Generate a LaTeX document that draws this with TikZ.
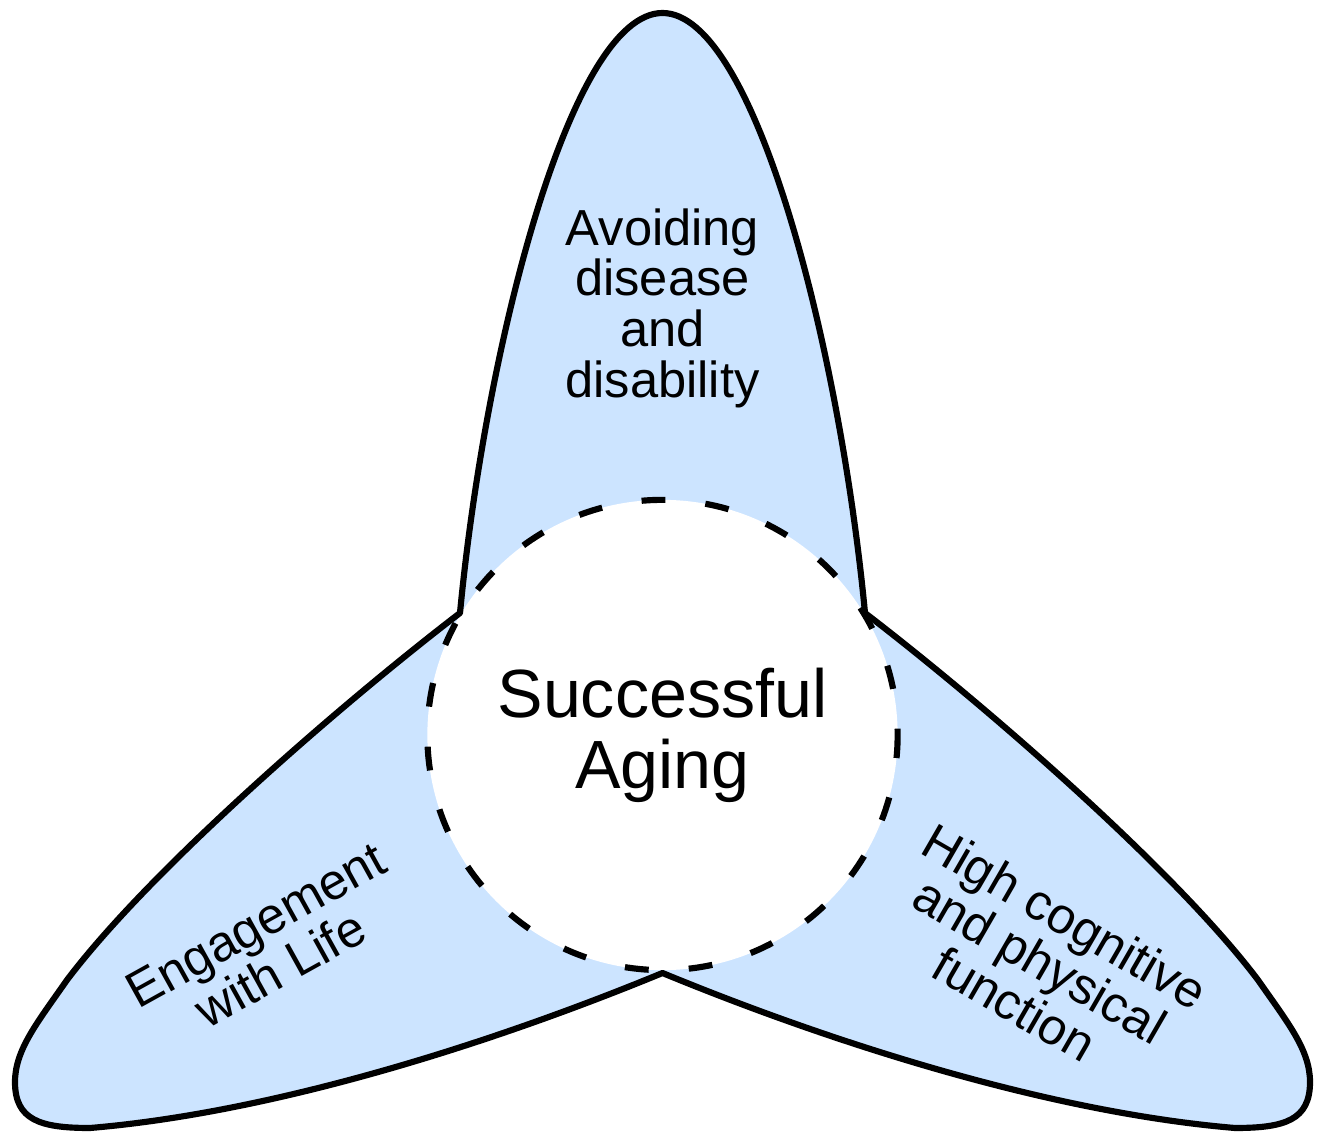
\documentclass[tikz,border=0pt]{standalone}
\usepackage{fontspec}
\setmainfont{Liberation Sans}
\begin{document}
\definecolor{petalblue}{RGB}{204,228,255}
\begin{tikzpicture}[x=0.01cm,y=-0.01cm,
  outline/.style={line width=1.75pt, line join=round},
  ring/.style={line width=1.75pt, dash pattern=on 6.8pt off 11.4pt, dash phase=5pt},
  petallabel/.style={align=center, inner sep=0pt, font=\fontsize{14.4}{14.4}\selectfont},
  hublabel/.style={align=center, inner sep=0pt, font=\fontsize{19.4}{20.2}\selectfont}]
\useasboundingbox (0,0) rectangle (1321,1137);

% outline of the three petals, one closed path
\def\petals{
  (460,613) .. controls (485,350) and (570,13) .. (662.5,13)
  .. controls (755,13) and (840,350) .. (865,613)
  .. controls (985,705) and (1175,870) .. (1258,980)
  .. controls (1288,1023) and (1310,1050) .. (1310,1082)
  .. controls (1310,1120) and (1285,1128) .. (1235,1128)
  .. controls (1045,1112) and (825,1040) .. (662.5,973)
  .. controls (500,1040) and (280,1112) .. (90,1128)
  .. controls (40,1128) and (15,1120) .. (15,1082)
  .. controls (15,1050) and (37,1023) .. (67,980)
  .. controls (150,870) and (340,705) .. (460,613) -- cycle}

\fill[petalblue] \petals;
\fill[white] (662.5,735) circle (2.35cm);
\draw[outline] \petals;
\draw[ring] (662.5,735) circle (2.35cm);

\node[hublabel] (hub) at (662.5,735) {Successful\\Aging};
\node[petallabel] (avoid) at (662.5,308) {Avoiding\\disease\\and\\disability};
\node[petallabel, rotate=29] (engage) at (268,947) {Engagement\\with Life};
\node[petallabel, rotate=-30] (func) at (1040,960) {High cognitive\\and physical\\function};
\end{tikzpicture}
\end{document}
